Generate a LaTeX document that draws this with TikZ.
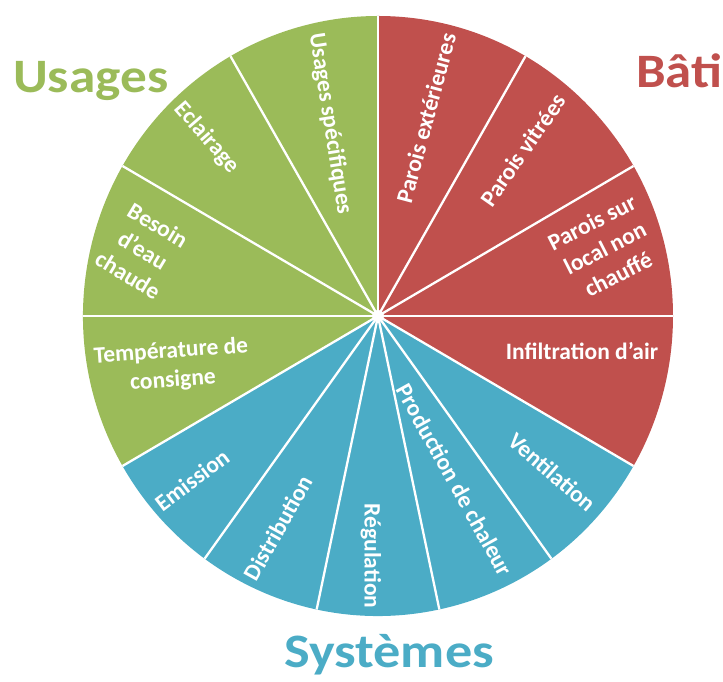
\documentclass[tikz,border=0pt]{standalone}
\usepackage{fontspec}
\setmainfont{Carlito}
\definecolor{bred}{HTML}{C0504D}
\definecolor{ugreen}{HTML}{9BBB59}
\definecolor{sblue}{HTML}{4BACC6}
\begin{document}
\begin{tikzpicture}[x=1pt,y=1pt,
  lbl/.style={text=white,font=\fontsize{23.5}{29}\selectfont\bfseries,align=center,inner sep=0pt},
  title/.style={font=\fontsize{48}{56}\selectfont\bfseries,inner sep=0pt,anchor=base west},
  sep/.style={white,line width=2.3pt}]
\useasboundingbox (0,0) rectangle (723,682);
\coordinate (c) at (378,366);
\def\RX{295}\def\RY{300}
\fill[bred] (c) -- ++({\RX*cos(90)},{\RY*sin(90)}) arc[start angle=90,end angle=-30,x radius=\RX,y radius=\RY] -- cycle;
\fill[sblue] (c) -- ++({\RX*cos(-30)},{\RY*sin(-30)}) arc[start angle=-30,end angle=-150,x radius=\RX,y radius=\RY] -- cycle;
\fill[ugreen] (c) -- ++({\RX*cos(-150)},{\RY*sin(-150)}) arc[start angle=-150,end angle=-270,x radius=\RX,y radius=\RY] -- cycle;
\foreach \a [count=\i] in {90,60,30,0,-30,-54,-78,-102,-126,-150,180,150,120} {
  \path (c) ++({\RX*cos(\a)},{\RY*sin(\a)}) coordinate (e\i);
  \draw[sep] (c) -- (e\i);
}
\fill[white] (c) circle (6);
% Bati
\node[lbl,rotate=75] (pe) at (426,564) {Parois extérieures};
\node[lbl,rotate=55] (pv) at (523,532) {Parois vitrées};
\node[lbl,rotate=27] (pl) at (605,434) {Parois sur\\local non\\chauffé};
\node[lbl] (ia) at (582,331) {Infiltration d'air};
% Systemes
\node[lbl,rotate=-41] (ve) at (552,210) {Ventilation};
\node[lbl,rotate=-61] (pc) at (455,202) {Production de chaleur};
\node[lbl,rotate=-90] (re) at (371,126) {Régulation};
\node[lbl,rotate=61] (di) at (278,154) {Distribution};
\node[lbl,rotate=37] (em) at (192,202) {Emission};
% Usages
\node[lbl,rotate=4] (tc) at (172,316) {Température de\\consigne};
\node[lbl,rotate=-31] (be) at (143,432) {Besoin\\d'eau\\chaude};
\node[lbl,rotate=-49] (ec) at (207,544) {Eclairage};
\node[lbl,rotate=-81] (us) at (330,558) {Usages spécifiques};
% titles
\node[title,text=ugreen] (tu) at (13,589) {\scalebox{1.11}[1]{Usages}};
\node[title,text=bred] (tb) at (636,594) {\scalebox{1.1}[1]{Bâti}};
\node[title,text=sblue] (ts) at (284,14) {\scalebox{1.13}[1]{Systèmes}};
\end{tikzpicture}
\end{document}
